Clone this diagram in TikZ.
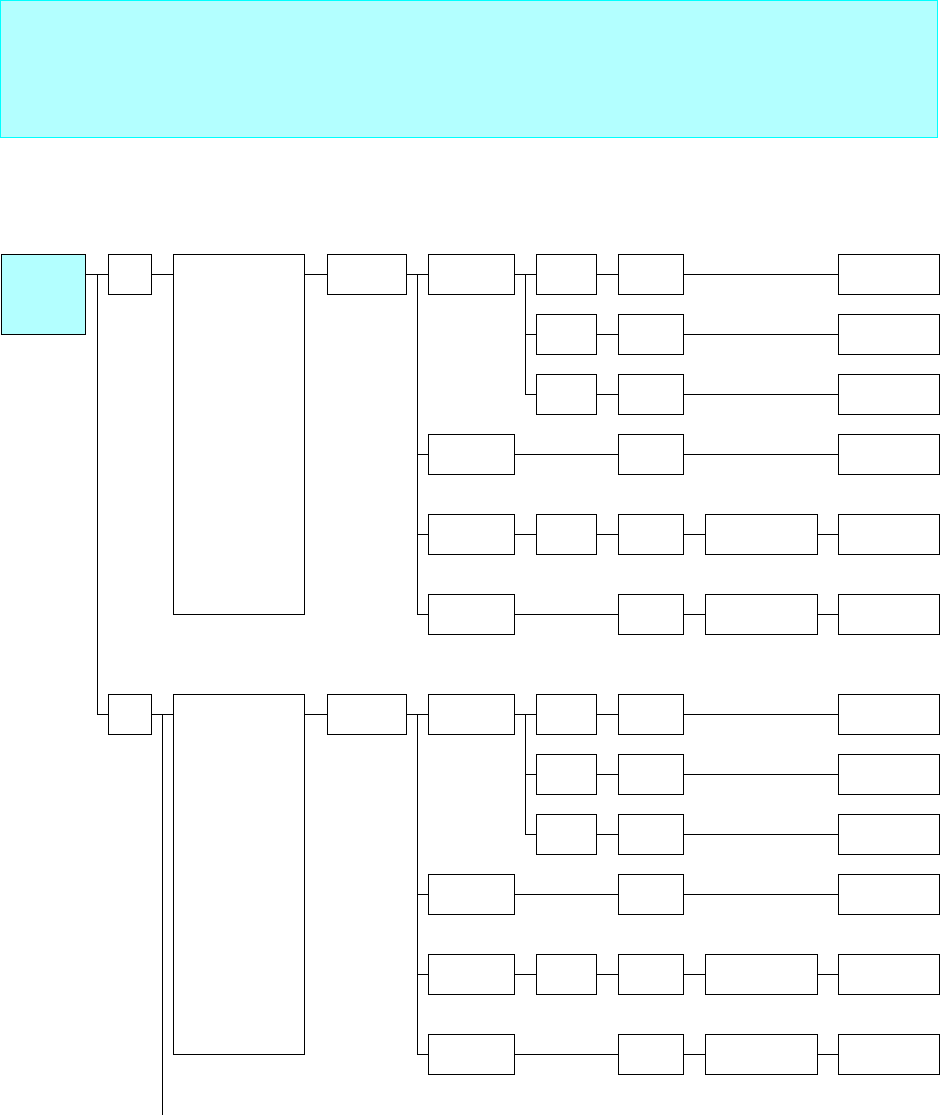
\documentclass[tikz,border=0pt]{standalone}
\usepackage{xcolor}
\usepackage{tikz}
\usetikzlibrary{positioning}
\definecolor{PaleCyan}{RGB}{179,255,255}
\definecolor{EdgeCyan}{RGB}{0,255,255}

\begin{document}
\begin{tikzpicture}[
    x=0.5pt, y=-0.5pt,
    line width=0.5pt,
    box/.style={rectangle, draw=black, fill=white, inner sep=0pt, outer sep=0pt,
                anchor=north west, minimum height=20pt},
    banner/.style={rectangle, draw=EdgeCyan, fill=PaleCyan, inner sep=0pt, outer sep=0pt,
                   anchor=north west, minimum width=468.5pt, minimum height=68.5pt},
    rootbox/.style={box, fill=PaleCyan, minimum width=42pt, minimum height=40pt},
    abox/.style={box, minimum width=21.5pt},
    bbox/.style={box, minimum width=65.5pt, minimum height=180pt},
    cbox/.style={box, minimum width=39.5pt},
    dbox/.style={box, minimum width=43pt},
    ebox/.style={box, minimum width=30pt},
    fbox/.style={box, minimum width=32.5pt},
    hbox/.style={box, minimum width=56pt},
    gbox/.style={box, minimum width=50.5pt},
    link/.style={draw=black, line width=0.5pt}
]
\useasboundingbox (0,0) rectangle (940,1115);

\node[banner]  (head) at (0,0) {};
\node[rootbox] (root) at (1,254) {};
\coordinate (trunk) at (97,274);
\coordinate (tail)  at (162,1115);

\foreach \blk/\dy in {1/0, 2/440} {
  \node[abox] (a\blk) at (108,254+\dy) {};
  \node[bbox] (b\blk) at (173,254+\dy) {};
  \node[cbox] (c\blk) at (327,254+\dy) {};
  \coordinate (cj\blk) at (417,274+\dy);
  \coordinate (dj\blk) at (525,274+\dy);
  % column D
  \node[dbox] (d1\blk) at (428,254+\dy) {};
  \node[dbox] (d4\blk) at (428,434+\dy) {};
  \node[dbox] (d5\blk) at (428,514+\dy) {};
  \node[dbox] (d6\blk) at (428,594+\dy) {};
  % column E
  \node[ebox] (e1\blk) at (536,254+\dy) {};
  \node[ebox] (e2\blk) at (536,314+\dy) {};
  \node[ebox] (e3\blk) at (536,374+\dy) {};
  \node[ebox] (e5\blk) at (536,514+\dy) {};
  % columns F, H, G
  \foreach \r/\y in {1/254, 2/314, 3/374, 4/434, 5/514, 6/594} {
    \node[fbox] (f\r\blk) at (618,\y+\dy) {};
    \node[gbox] (g\r\blk) at (838,\y+\dy) {};
  }
  \node[hbox] (h5\blk) at (705,514+\dy) {};
  \node[hbox] (h6\blk) at (705,594+\dy) {};

  \draw[link] (a\blk.east) -- (a\blk.east -| b\blk.west);
  \draw[link] (b\blk.east |- c\blk.west) -- (c\blk.west);
  \draw[link] (c\blk.east) -- (d1\blk.west);
  \foreach \r in {4,5,6}
    \draw[link] (cj\blk) |- (d\r\blk.west);
  \draw[link] (d1\blk.east) -- (e1\blk.west);
  \draw[link] (dj\blk) |- (e2\blk.west);
  \draw[link] (dj\blk) |- (e3\blk.west);
  \foreach \r in {1,2,3,5}
    \draw[link] (e\r\blk.east) -- (f\r\blk.west);
  \draw[link] (d4\blk.east) -- (f4\blk.west);
  \draw[link] (d5\blk.east) -- (e5\blk.west);
  \draw[link] (d6\blk.east) -- (f6\blk.west);
  \foreach \r in {1,...,4}
    \draw[link] (f\r\blk.east) -- (g\r\blk.west);
  \foreach \r in {5,6} {
    \draw[link] (f\r\blk.east) -- (h\r\blk.west);
    \draw[link] (h\r\blk.east) -- (g\r\blk.west);
  }
}

\draw[link] (root.east |- a1.west) -- (a1.west);
\draw[link] (trunk) |- (a2.west);
\draw[link] (a2.east -| tail) -- (tail);
\end{tikzpicture}
\end{document}
